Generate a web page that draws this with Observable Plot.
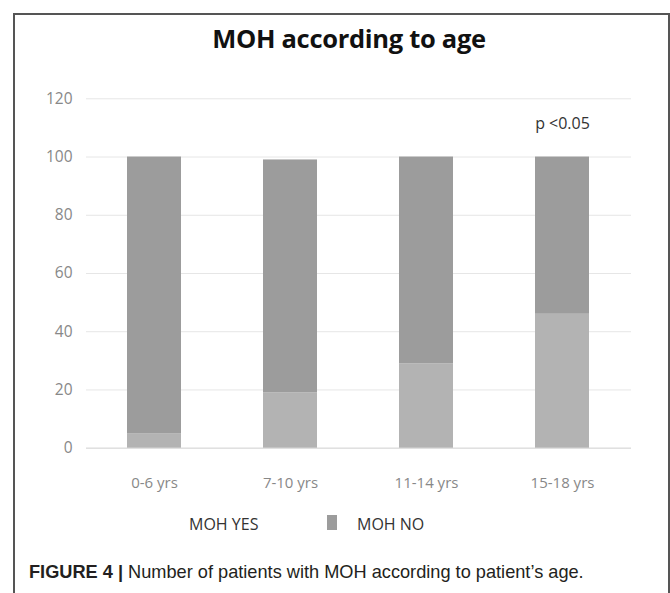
<!DOCTYPE html>
<html>
<head>
<meta charset="utf-8">
<script src="https://cdn.jsdelivr.net/npm/d3@7"></script>
<script src="https://cdn.jsdelivr.net/npm/@observablehq/plot@0.6"></script>
<style>
  html, body { margin: 0; padding: 0; background: #fff; }
  #page { position: relative; width: 670px; height: 593px; overflow: hidden; }
  #frame { position: absolute; left: 13px; top: 13px; width: 653px; height: 620px;
           border: 2px solid #555; border-bottom: none; }
  #title { position: absolute; left: 0; width: 698px; top: 21px; text-align: center;
           font-family: "Open Sans", sans-serif; font-weight: 700; font-size: 25.5px; color: #111; letter-spacing: -0.3px; }
  #chart { position: absolute; left: 0; top: 70px; }
  #legend { position: absolute; top: 513px; left: 0; width: 670px; height: 20px;
            font-family: "Open Sans", sans-serif; font-size: 16px; color: #333; }
  #legend span { position: absolute; top: 0; white-space: nowrap; }
  #legend .sw { position: absolute; top: 2px; width: 10px; height: 15px; }
  #caption { position: absolute; left: 29px; top: 562px; white-space: nowrap;
             font-family: "Liberation Sans", Arial, sans-serif; font-size: 18.2px; color: #231f20; }
</style>
</head>
<body>
<div id="page">
  <div id="frame"></div>
  <div id="title"></div>
  <div id="chart"></div>
  <div id="legend"></div>
  <div id="caption"></div>
</div>
<script>
const titleText = "MOH according to age";
const categories = ["0-6 yrs", "7-10 yrs", "11-14 yrs", "15-18 yrs"];
const mohYes = [5, 19, 29, 46];
const mohNo = [95, 80, 71, 54];
const series = ["MOH YES", "MOH NO"];
const seriesColors = ["#b3b3b3", "#9c9c9c"];
const yTicks = [0, 20, 40, 60, 80, 100, 120];
const pLabel = "p <0.05";
const captionBold = "FIGURE 4 |";
const captionText = " Number of patients with MOH according to patient\u2019s age.";

const data = categories.flatMap((c, i) => [
  {age: c, group: series[0], n: mohYes[i]},
  {age: c, group: series[1], n: mohNo[i]}
]);

const last = categories.length - 1;

const chart = Plot.plot({
  width: 670,
  height: 440,
  marginTop: 28.3,
  marginBottom: 62.3,
  marginLeft: 86,
  marginRight: 39,
  style: {fontFamily: "'Open Sans', sans-serif", fontSize: "15px", background: "transparent"},
  x: {domain: categories, paddingInner: 0.6, paddingOuter: 0.3, label: null},
  y: {domain: [0, 120], label: null},
  color: {domain: series, range: seriesColors},
  marks: [
    Plot.gridY(yTicks, {stroke: "#e6e6e6", strokeOpacity: 1}),
    Plot.ruleY([0], {stroke: "#d9d9d9"}),
    Plot.barY(data, {x: "age", y: "n", fill: "group", order: series}),
    Plot.text([last], {
      x: i => categories[i],
      y: i => mohYes[i] + mohNo[i],
      text: () => pLabel,
      dy: -33.5,
      lineAnchor: "middle",
      fontSize: 16,
      fill: "#333"
    }),
    Plot.axisY(yTicks, {tickSize: 0, tickPadding: 14, fill: "#888", fontSize: 15.5, label: null}),
    Plot.axisX({tickSize: 0, tickPadding: 29, fill: "#888", fontSize: 15, label: null})
  ]
});
document.getElementById("chart").appendChild(chart);

document.getElementById("title").textContent = titleText;

const legend = document.getElementById("legend");
const yes = document.createElement("span");
yes.textContent = series[0];
yes.style.left = "189px";
legend.appendChild(yes);
const sw = document.createElement("div");
sw.className = "sw";
sw.style.left = "327px";
sw.style.background = seriesColors[1];
legend.appendChild(sw);
const no = document.createElement("span");
no.textContent = series[1];
no.style.left = "357px";
legend.appendChild(no);

const cap = document.getElementById("caption");
const b = document.createElement("b");
b.textContent = captionBold;
cap.appendChild(b);
cap.appendChild(document.createTextNode(captionText));
</script>
</body>
</html>
